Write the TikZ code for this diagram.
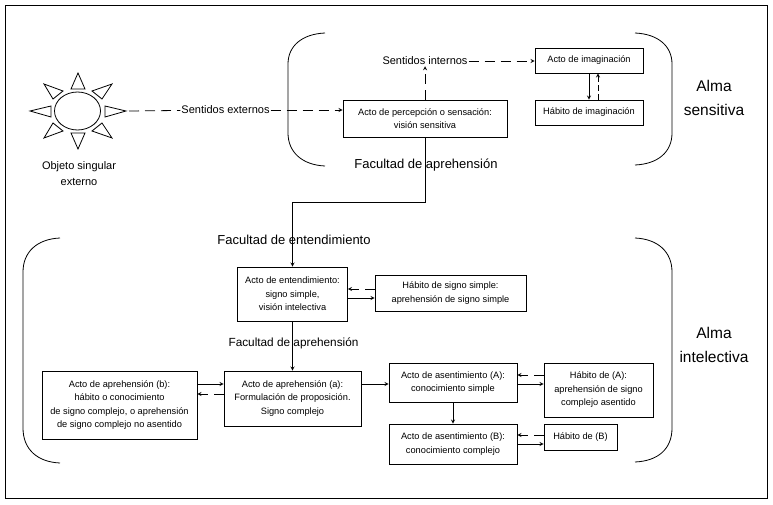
\documentclass[tikz,border=0pt]{standalone}
\usepackage{fontspec}
\setmainfont{Liberation Sans}
\usetikzlibrary{shapes.geometric}
\tikzset{
	caja/.style={draw, line width=0.9pt, align=center, inner sep=0pt, font=\fontsize{9.25}{13.5}\selectfont},
	rotulo/.style={align=center, inner sep=1pt, font=\fontsize{11}{16}\selectfont},
	facultad/.style={inner sep=1pt, font=\fontsize{13}{14}\selectfont},
	alma/.style={align=center, inner sep=0pt, font=\fontsize{15.5}{24}\selectfont},
	llena/.style={->, >=stealth, line width=0.8pt},
	trazos/.style={->, >=stealth, line width=0.8pt, dash pattern=on 10pt off 6pt},
	llave/.style={line width=0.8pt},
	rayo/.style={line width=0.8pt}
}
\begin{document}
\begin{tikzpicture}[x=1pt, y=-1pt]
	\useasboundingbox (0,0) rectangle (773,505);
	\draw[line width=1pt] (5.5,6) rectangle (767,498);

	% sol
	\node[ellipse, draw, line width=0.8pt, minimum width=46pt, minimum height=38pt, inner sep=0pt] (sol) at (77.5,111) {};
	\draw[rayo] (78,73) -- (71,89) -- (85,89) -- cycle;
	\draw[rayo] (78,149) -- (71,133) -- (85,133) -- cycle;
	\draw[rayo] (30,111) -- (51,106) -- (51,117) -- cycle;
	\draw[rayo] (126,111) -- (105,106) -- (105,117) -- cycle;
	\draw[rayo] (44,84) -- (63,91) -- (53,99) -- cycle;
	\draw[rayo] (112,84) -- (92,91) -- (102,99) -- cycle;
	\draw[rayo] (44,138) -- (63,131) -- (53,123) -- cycle;
	\draw[rayo] (112,138) -- (92,131) -- (102,123) -- cycle;
	\node[rotulo] (objeto) at (79,174) {Objeto singular\\externo};
	\coordinate (salida) at (129,111);

	% llaves
	\draw[llave] (325,33) .. controls (302,34) and (288,46) .. (288,64) -- (288,133) .. controls (288,152) and (302,165) .. (325,166);
	\draw[llave] (635,33) .. controls (658,34) and (672,46) .. (672,64) -- (672,133) .. controls (672,152) and (658,164) .. (635,165);
	\draw[llave] (60,238) .. controls (37,239) and (23,252) .. (23,272) -- (23,428) .. controls (23,449) and (37,462) .. (60,463);
	\draw[llave] (635,238) .. controls (658,239) and (672,252) .. (672,272) -- (672,428) .. controls (672,449) and (658,461) .. (635,462);

	% alma sensitiva
	\node[caja, minimum width=164pt, minimum height=37pt] (percepcion) at (425,118.5) {Acto de percepción o sensación:\\visión sensitiva};
	\node[caja, minimum width=108pt, minimum height=25pt] (actoimag) at (589,60.5) {Acto de imaginación};
	\node[caja, minimum width=108pt, minimum height=25pt] (habitoimag) at (589,112.5) {Hábito de imaginación};
	\node[rotulo] (externos) at (225.5,110) {Sentidos externos};
	\node[rotulo] (internos) at (425,61) {Sentidos internos};
	\node[facultad] (aprehension) at (426,165) {Facultad de aprehensión};
	\node[alma] (sensitiva) at (714,98) {Alma\\sensitiva};

	% alma intelectiva
	\node[facultad] (entendimiento) at (294,240) {Facultad de entendimiento};
	\node[caja, minimum width=110pt, minimum height=54pt] (entender) at (292.5,294) {Acto de entendimiento:\\signo simple,\\visión intelectiva};
	\node[caja, minimum width=151pt, minimum height=36pt] (habitosigno) at (450.5,293) {Hábito de signo simple:\\aprehensión de signo simple};
	\node[facultad, font=\fontsize{11.8}{14}\selectfont] (aprehension2) at (293.5,343) {Facultad de aprehensión};
	\node[caja, minimum width=137pt, minimum height=55pt] (aprea) at (292.5,398.5) {Acto de aprehensión (a):\\Formulación de proposición.\\Signo complejo};
	\node[caja, minimum width=155pt, minimum height=68pt] (apreb) at (119.5,405) {Acto de aprehensión (b):\\hábito o conocimiento\\de signo complejo, o aprehensión\\de signo complejo no asentido};
	\node[caja, minimum width=128pt, minimum height=39pt] (asentA) at (453,382.5) {Acto de asentimiento (A):\\conocimiento simple};
	\node[caja, minimum width=128pt, minimum height=40pt] (asentB) at (453,444) {Acto de asentimiento (B):\\conocimiento complejo};
	\node[caja, minimum width=109pt, minimum height=54pt] (habitoA) at (598.5,390) {Hábito de (A):\\aprehensión de signo\\complejo asentido};
	\node[caja, minimum width=73pt, minimum height=26pt] (habitoB) at (580.5,437) {Hábito de (B)};
	\node[alma] (intelectiva) at (714,345) {Alma\\intelectiva};

	% conexiones
	\draw[line width=0.8pt, dash pattern=on 10pt off 6pt] (salida) -- (externos);
	\draw[trazos] (externos) -- (percepcion.west |- externos);
	\draw[trazos] (percepcion.north) -- (internos.south);
	\draw[trazos] (internos) -- (actoimag.west |- internos);
	\draw[llena] (actoimag.south) -- (habitoimag.north);
	\draw[trazos, dash pattern=on 6pt off 3pt] ([xshift=9pt]habitoimag.north) -- ([xshift=9pt]actoimag.south);
	\coordinate (codo) at (292.5,202);
	\draw[llena] (percepcion.south) |- (codo) -- (entender.north);
	\draw[llena] (entender.south) -- (aprea.north);
	\draw[trazos] (habitosigno.west |- 0,289) -- (entender.east |- 0,289);
	\draw[llena] (entender.east |- 0,298) -- (habitosigno.west |- 0,298);
	\draw[llena] (apreb.east |- 0,384) -- (aprea.west |- 0,384);
	\draw[trazos] (aprea.west |- 0,394) -- (apreb.east |- 0,394);
	\draw[llena] (aprea.east |- 0,384) -- (asentA.west |- 0,384);
	\draw[trazos] (habitoA.west |- 0,375) -- (asentA.east |- 0,375);
	\draw[llena] (asentA.east |- 0,384) -- (habitoA.west |- 0,384);
	\draw[llena] (asentA.south) -- (asentB.north);
	\draw[trazos] (habitoB.west |- 0,435) -- (asentB.east |- 0,435);
	\draw[llena] (asentB.east |- 0,444) -- (habitoB.west |- 0,444);
\end{tikzpicture}
\end{document}
